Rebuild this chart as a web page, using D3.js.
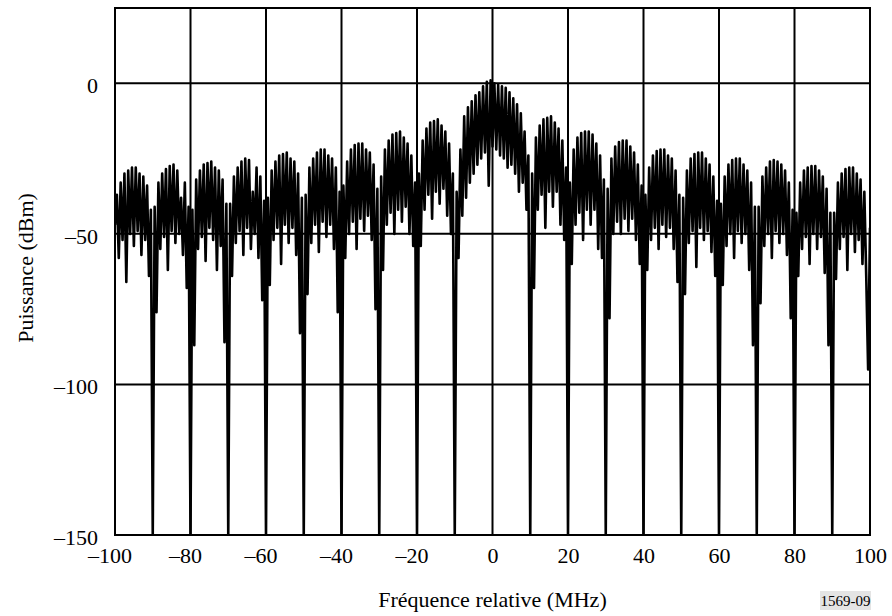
<!DOCTYPE html>
<html>
<head>
<meta charset="utf-8">
<script src="https://cdn.jsdelivr.net/npm/d3@7"></script>
<style>
    body { margin: 0; background: #fff; }
    text { font-family: "Liberation Serif", "Times New Roman", serif; fill: #000; }
</style>
</head>
<body>
<script>
// spectrum samples, one every 0.5 MHz from -100 to +100 MHz (dBm)
const freqStart = -100;
const freqStep = 0.5;
const powerDbm = [
    // -100 .. -90.5
    -47, -37, -58, -33, -52, -30, -66, -29, -50, -28, -54, -28, -49, -30, -57, -31, -52, -34, -64, -42,
    // -90 .. -80.5
    -150, -41, -76, -33, -55, -30, -51, -28.5, -62, -27.5, -49, -27, -53, -29, -50, -38, -57, -33, -68, -41,
    // -80 .. -70.5
    -150, -42, -87, -32, -55, -29, -51, -27, -59, -26.5, -48, -26, -52, -28, -62, -29, -54, -32, -86, -40,
    // -70 .. -60.5
    -150, -40, -64, -31, -53, -28, -49, -26, -57, -25, -48, -25.5, -55, -36, -50, -28, -58, -31, -72, -39,
    // -60 .. -50.5
    -150, -38, -67, -29, -52, -26, -48, -24, -60, -23.5, -47, -23, -53, -25, -48, -26, -57, -30, -83, -38,
    // -50 .. -40.5
    -150, -37, -70, -28, -53, -25, -47, -23, -56, -22, -46, -22, -51, -24, -47, -25, -55, -28, -76, -36,
    // -40 .. -30.5
    -150, -34, -58, -26, -50, -22, -46, -20.5, -55, -20, -45, -20, -49, -22, -44, -23, -52, -27, -75, -35,
    // -30 .. -20.5
    -150, -31, -62, -22, -47, -19, -43, -17, -50, -16.5, -42, -16, -46, -18, -41, -20, -50, -24, -54, -33,
    // -20 .. -10.5
    -150, -30, -54, -19, -42, -15, -37, -13, -45, -12.5, -36, -12, -40, -14, -35, -16, -44, -20, -50, -30,
    // -10 .. -0.5
    -150, -36, -58, -22, -44, -11, -38, -8, -33, -6, -30, -4, -27, -3, -25, -1, -23, 0.5, -34, 1,
    // 0 .. 9.5
    -21, 0, -22, -0.5, -24, -1, -25, -1.5, -28, -3, -27, -5, -30, -7, -36, -10, -33, -16, -42, -24,
    // 10 .. 19.5
    -150, -30, -68, -18, -42, -14, -37, -12, -48, -11.5, -36, -11, -41, -13, -36, -15, -47, -19, -52, -28,
    // 20 .. 29.5
    -150, -33, -60, -22, -47, -18, -43, -16.5, -52, -16, -42, -16, -47, -17, -42, -20, -55, -24, -58, -32,
    // 30 .. 39.5
    -150, -35, -78, -25, -50, -21, -46, -19.5, -50, -19, -45, -19, -49, -21, -45, -23, -52, -27, -60, -34,
    // 40 .. 49.5
    -150, -37, -62, -28, -52, -24, -48, -22.5, -55, -22, -47, -22, -51, -24, -48, -25, -55, -29, -66, -37,
    // 50 .. 59.5
    -150, -38, -70, -29, -53, -25, -49, -23.5, -61, -23, -48, -23, -52, -25, -49, -27, -56, -31, -64, -39,
    // 60 .. 69.5
    -150, -40, -67, -31, -54, -27, -50, -25.5, -58, -25, -49, -25, -53, -27, -50, -29, -62, -33, -87, -41,
    // 70 .. 79.5
    -150, -41, -73, -31, -54, -28, -50, -26, -58, -25.5, -49, -26, -53, -27, -50, -29, -57, -33, -78, -42,
    // 80 .. 89.5
    -150, -43, -64, -33, -55, -29, -51, -28, -60, -27.5, -50, -27.5, -55, -29, -51, -31, -63, -35, -87, -43,
    // 90 .. 100
    -150, -43, -65, -33, -55, -30, -51, -28.5, -62, -28, -50, -28, -56, -30, -52, -32, -60, -36, -64, -95,
    -48
];

const xTicks = [-100, -80, -60, -40, -20, 0, 20, 40, 60, 80, 100];
const yTicks = [0, -50, -100, -150];
const xGrid = [-80, -60, -40, -20, 0, 20, 40, 60, 80];
const yGrid = [0, -50, -100];

const width = 892;
const height = 616;
const plot = { left: 115, right: 870, top: 8, bottom: 535 };

const svg = d3.select("body")
    .append("svg")
    .attr("width", width)
    .attr("height", height);

const xScale = d3.scaleLinear().domain([-100, 100]).range([plot.left, plot.right]);
const yScale = d3.scaleLinear().domain([-150, 25]).range([plot.bottom, plot.top]);

svg.append("clipPath")
    .attr("id", "plotClip")
    .append("rect")
    .attr("x", plot.left)
    .attr("y", plot.top)
    .attr("width", plot.right - plot.left)
    .attr("height", plot.bottom - plot.top);

// grid
svg.selectAll(".vgrid")
    .data(xGrid)
    .enter().append("line")
    .attr("x1", d => xScale(d))
    .attr("x2", d => xScale(d))
    .attr("y1", plot.top)
    .attr("y2", plot.bottom)
    .style("stroke", "#000")
    .style("stroke-width", 2);

svg.selectAll(".hgrid")
    .data(yGrid)
    .enter().append("line")
    .attr("x1", plot.left)
    .attr("x2", plot.right)
    .attr("y1", d => yScale(d))
    .attr("y2", d => yScale(d))
    .style("stroke", "#000")
    .style("stroke-width", 2);

// spectrum trace
const line = d3.line()
    .x((d, i) => xScale(freqStart + i * freqStep))
    .y(d => yScale(d));

svg.append("path")
    .datum(powerDbm)
    .attr("clip-path", "url(#plotClip)")
    .attr("d", line)
    .style("fill", "none")
    .style("stroke", "#000")
    .style("stroke-width", 2.6)
    .style("stroke-linejoin", "round");

// frame
svg.append("rect")
    .attr("x", plot.left)
    .attr("y", plot.top)
    .attr("width", plot.right - plot.left)
    .attr("height", plot.bottom - plot.top)
    .style("fill", "none")
    .style("stroke", "#000")
    .style("stroke-width", 2);

const fmt = d => (d < 0 ? "\u2013" : "") + Math.abs(d);

// Y axis
const yAxis = svg.append("g")
    .attr("transform", "translate(" + plot.left + ",0)")
    .call(d3.axisLeft(yScale).tickValues(yTicks).tickSize(0).tickPadding(17).tickFormat(fmt));
yAxis.select(".domain").remove();
yAxis.selectAll("text")
    .style("font-size", "22px")
    .style("font-family", "'Liberation Serif', serif")
    .attr("dy", "0.42em");

// X axis, digits centred on the tick, minus hanging to the left
const xAxis = svg.append("g")
    .attr("transform", "translate(0," + plot.bottom + ")")
    .call(d3.axisBottom(xScale).tickValues(xTicks).tickSize(0).tickPadding(12).tickFormat(fmt));
xAxis.select(".domain").remove();
xAxis.selectAll("text")
    .style("font-size", "22px")
    .style("font-family", "'Liberation Serif', serif")
    .attr("dx", d => d < 0 ? "-0.25em" : 0);

// axis titles
svg.append("text")
    .attr("x", (plot.left + plot.right) / 2)
    .attr("y", 607)
    .attr("text-anchor", "middle")
    .style("font-size", "22px")
    .text("Fréquence relative (MHz)");

svg.append("text")
    .attr("transform", "translate(33,268) rotate(-90)")
    .attr("text-anchor", "middle")
    .style("font-size", "22px")
    .text("Puissance (dBm)");

// figure number
svg.append("rect")
    .attr("x", 820)
    .attr("y", 591)
    .attr("width", 51)
    .attr("height", 19)
    .style("fill", "#e4e4e4");

svg.append("text")
    .attr("x", 845.5)
    .attr("y", 606)
    .attr("text-anchor", "middle")
    .style("font-size", "15px")
    .text("1569-09");
</script>
</body>
</html>
